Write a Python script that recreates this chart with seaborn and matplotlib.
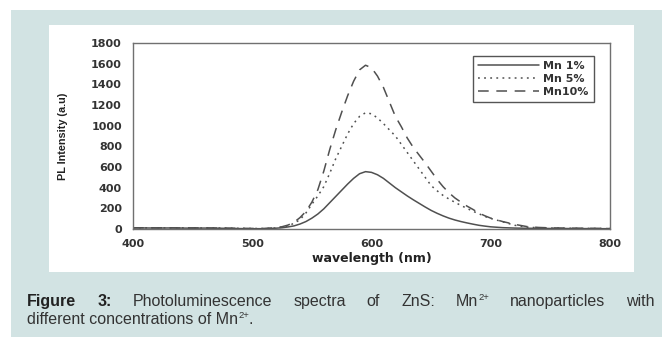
import matplotlib
matplotlib.use("Agg")
import matplotlib.pyplot as plt
from matplotlib.patches import Rectangle
import pandas as pd
import seaborn as sns

# ---------------- data ----------------
wavelength = [400, 410, 420, 430, 440, 450, 460, 470, 480, 490, 500, 510, 520,
              525, 530, 535, 540, 545, 550, 555, 560, 565, 570, 575, 580, 585, 590,
              595, 600, 605, 610, 615, 620, 625, 630, 635, 640, 645, 650, 655, 660,
              665, 670, 675, 680, 685, 690, 695, 700,
              710, 720, 730, 740, 750, 760, 770, 780, 790, 800]

mn1 = [10, 10, 9, 10, 9, 8, 9, 8, 6, 4, 3, 3, 8,
       12, 20, 30, 48, 72, 105, 145, 195, 255, 315, 375, 435, 490, 535,
       555, 548, 525, 490, 445, 400, 360, 320, 283, 248, 213, 180, 152, 127,
       105, 87, 72, 59, 47, 36, 28, 21,
       13, 9, 7, 6, 5, 5, 4, 4, 3, 3]

mn5 = [12, 11, 12, 10, 11, 10, 9, 10, 8, 6, 5, 4, 10,
       18, 30, 55, 90, 155, 240, 320, 410, 540, 680, 800, 920, 1020, 1090,
       1125, 1115, 1075, 1020, 960, 900, 820, 740, 660, 580, 500, 420, 370, 325,
       290, 258, 228, 200, 172, 148, 122, 102,
       70, 36, 18, 12, 9, 8, 7, 6, 5, 4]

mn10 = [12, 12, 11, 12, 10, 11, 10, 9, 8, 6, 5, 5, 12,
        22, 38, 65, 110, 170, 260, 380, 560, 770, 960, 1130, 1290, 1430, 1540,
        1585, 1560, 1480, 1370, 1230, 1090, 990, 880, 790, 715, 640, 560, 480, 410,
        350, 300, 260, 222, 190, 155, 128, 105,
        72, 45, 24, 15, 11, 9, 8, 7, 6, 5]

series_labels = ["Mn 1%", "Mn 5%", "Mn10%"]
x_ticks = [400, 500, 600, 700, 800]
y_ticks = [0, 200, 400, 600, 800, 1000, 1200, 1400, 1600, 1800]
x_label = "wavelength (nm)"
y_label = "PL Intensity (a.u)"
# caption words: each word is a list of (text, weight, is_superscript)
caption_line1 = [[("Figure", "bold", False)], [("3:", "bold", False)],
                 [("Photoluminescence", "normal", False)], [("spectra", "normal", False)],
                 [("of", "normal", False)], [("ZnS:", "normal", False)],
                 [("Mn", "normal", False), ("2+", "normal", True)],
                 [("nanoparticles", "normal", False)], [("with", "normal", False)]]
caption_line2 = [("different concentrations of Mn", "normal", False),
                 ("2+", "normal", True), (".", "normal", False)]

# ---------------- style ----------------
sns.set_style("white")
plt.rcParams["font.family"] = ["DejaVu Sans"]

W, H = 662, 338
fig = plt.figure(figsize=(W / 100, H / 100), dpi=100)
fig.patch.set_facecolor("white")


def frect(x0, y0, x1, y1):
    return (x0 / W, 1 - y1 / H), (x1 - x0) / W, (y1 - y0) / H


xy, w, h = frect(11, 10, 662, 337)
fig.add_artist(Rectangle(xy, w, h, transform=fig.transFigure,
                         facecolor="#d2e3e3", edgecolor="none", zorder=-3))
xy, w, h = frect(49, 25, 634, 272)
fig.add_artist(Rectangle(xy, w, h, transform=fig.transFigure,
                         facecolor="white", edgecolor="none", zorder=-2))

ax = fig.add_axes([133 / W, 1 - 229 / H, 477 / W, 186 / H])
ax.set_facecolor("white")

n = len(wavelength)
df = pd.DataFrame({
    "wavelength": wavelength * 3,
    "intensity": mn1 + mn5 + mn10,
    "series": [series_labels[0]] * n + [series_labels[1]] * n + [series_labels[2]] * n,
})

line_color = "#505050"
sns.lineplot(data=df, x="wavelength", y="intensity", style="series",
             style_order=series_labels,
             dashes={series_labels[0]: "", series_labels[1]: (1.2, 2.8),
                     series_labels[2]: (7, 5)},
             color=line_color, linewidth=1.1, estimator=None, sort=False, ax=ax)

ax.set_xlim(400, 800)
ax.set_ylim(0, 1800)
ax.set_xticks(x_ticks)
ax.set_yticks(y_ticks)

for s in ax.spines.values():
    s.set_visible(True)
    s.set_color("#707070")
    s.set_linewidth(1.0)

ax.tick_params(axis="both", direction="out", length=3, width=0.9, color="#555555",
               labelcolor="#333333")
ax.tick_params(axis="y", pad=5)
ax.tick_params(axis="x", pad=4)
for lab in ax.get_xticklabels() + ax.get_yticklabels():
    lab.set_fontsize(8)
    lab.set_fontweight("bold")
    lab.set_family("DejaVu Sans")

ax.set_xlabel(x_label, fontsize=9, fontweight="bold", color="#222222", family="DejaVu Sans")
ax.set_ylabel(y_label, fontsize=7.8, fontweight="bold", color="#222222", family="Liberation Sans")
ax.xaxis.set_label_coords(0.5, -0.125)
ax.yaxis.set_label_coords(-0.137, 0.5)

old = ax.get_legend()
if old is not None:
    old.remove()
leg = ax.legend(handles=ax.lines[:3], labels=series_labels, loc="upper right",
                bbox_to_anchor=(0.966, 0.930), borderaxespad=0, frameon=True,
                fancybox=False, framealpha=1, edgecolor="#555555",
                prop={"family": "DejaVu Sans", "weight": "bold", "size": 8},
                handlelength=5.5, handletextpad=0.4, labelspacing=0.25, borderpad=0.45)
leg.get_frame().set_linewidth(1.0)
for t in leg.get_texts():
    t.set_color("#333333")

# ---------------- caption (justified first line) ----------------
cap_size = 11.5
sup_size = 6.8
sup_rise = 6  # pixels
cap_color = "#333333"
renderer = fig.canvas.get_renderer()
x_left, x_right = 27, 655
base1_px, base2_px = 306, 324


def make_word(segs, base_px):
    arts = []
    for txt, weight, sup in segs:
        y = (H - base_px + (sup_rise if sup else 0) + 0.3) / H
        t = fig.text(0, y, txt, fontsize=sup_size if sup else cap_size, fontweight=weight,
                     family="Liberation Sans",
                     color="#222222" if weight == "bold" else cap_color,
                     va="baseline", ha="left")
        arts.append(t)
    widths = [a.get_window_extent(renderer=renderer).width for a in arts]
    return arts, widths


def place_word(arts, widths, x):
    for a, wd in zip(arts, widths):
        a.set_x(x / W)
        x += wd
    return x


words = [make_word(segs, base1_px) for segs in caption_line1]
total = sum(sum(wds) for _, wds in words)
gap = (x_right - x_left - total) / (len(words) - 1)
x = x_left
for arts, wds in words:
    x = place_word(arts, wds, x) + gap

arts2, wds2 = make_word(caption_line2, base2_px)
place_word(arts2, wds2, x_left)

fig.savefig("out.png", dpi=100)
